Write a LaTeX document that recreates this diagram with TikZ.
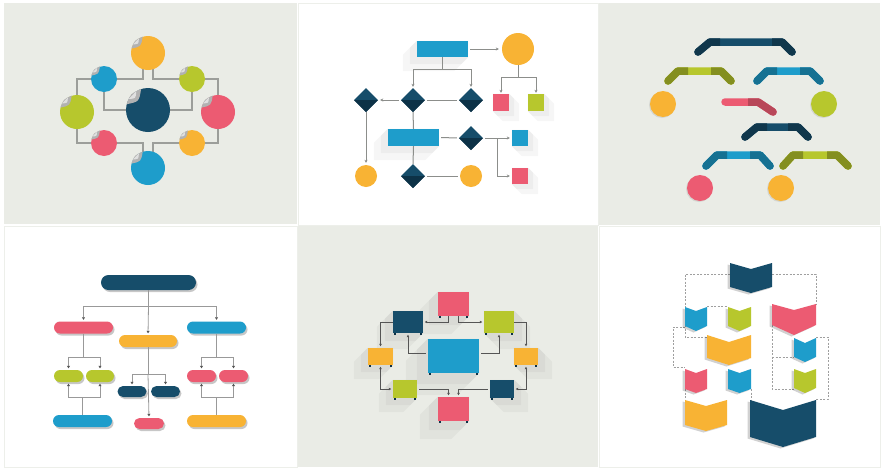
\documentclass[tikz,border=0pt]{standalone}
\usetikzlibrary{shapes.geometric,arrows.meta,calc,shadows,fadings}
\definecolor{panelgray}{HTML}{EAECE6}
\definecolor{framegray}{HTML}{EDEFEA}
\definecolor{cor}{HTML}{F8B334}
\definecolor{cbl}{HTML}{1E9DCB}
\definecolor{cgr}{HTML}{B7C72D}
\definecolor{crd}{HTML}{EC5B72}
\definecolor{cnv}{HTML}{164D6A}
\definecolor{cnvd}{HTML}{0D3247}
\definecolor{lgray}{HTML}{9C9E9A}
\definecolor{dgray}{HTML}{555555}
\pgfdeclarelayer{back}
\pgfdeclarelayer{bg}
\pgfsetlayers{back,bg,main}
\tikzset{
  cn/.style={circle,inner sep=0pt,minimum size=#1},
  box/.style={rectangle,inner sep=0pt},
  dia/.style={diamond,aspect=1,inner sep=0pt,minimum width=24pt,minimum height=24pt,fill=cnv},
  pill/.style={rectangle,inner sep=0pt,rounded corners=#1,
    drop shadow={shadow xshift=1.5pt,shadow yshift=-2pt,opacity=0.22,fill=black}},
  p1line/.style={draw=lgray,line width=1.3pt},
  p2line/.style={draw=lgray!90!black,line width=1pt},
  p2arr/.style={p2line,-{Stealth[length=3pt,width=3pt]}},
  p4line/.style={draw=gray!80,line width=0.8pt},
  p4arr/.style={p4line,-{Triangle[length=2.5pt,width=3pt,color=dgray]},shorten >=1.5pt},
  p5line/.style={draw=dgray,line width=0.7pt},
  p5arr/.style={p5line,-{Triangle[length=2.5pt,width=2.5pt]},shorten >=1.5pt},
  p5both/.style={p5line,{Triangle[length=2.5pt,width=2.5pt]}-{Triangle[length=2.5pt,width=2.5pt]},shorten >=1.5pt,shorten <=1.5pt},
  dline/.style={draw=gray!75,dash pattern=on 2pt off 1.5pt,line width=0.6pt},
  rib/.style={line width=7.5pt,line cap=round,line join=round},
  ribd/.style={line width=7.5pt,line cap=butt,line join=round},
  shade5/.style={fill=black,opacity=0.035}
}
\newcommand{\mypeel}[1]{%
  \fill[gray!60] (#1.165) .. controls ($(#1.center)!1.08!(#1.137)$) .. (#1.108)
     .. controls ($(#1.center)!0.55!(#1.137)$) .. (#1.165) -- cycle;
  \fill[white,opacity=0.6] (#1.150) .. controls ($(#1.center)!0.95!(#1.136)$) .. (#1.122)
     .. controls ($(#1.center)!0.75!(#1.137)$) .. (#1.150) -- cycle;}
\newcommand{\ribbon}[7]{%
  \draw[#7,rib] (#1,#6) -- (#2,#5) -- (#3,#5) -- (#4,#6);
  \draw[#7!72!black,ribd] (#1,#6) -- (#2,#5) -- ({#2+10},#5);
  \draw[#7!72!black,ribd] ({#3-10},#5) -- (#3,#5) -- (#4,#6);
  \fill[#7!72!black] (#1,#6) circle[radius=3.75];
  \fill[#7!72!black] (#4,#6) circle[radius=3.75];}
\newcommand{\chev}[7]{%
  \fill[black,opacity=0.18] ({#1-2.5},{#3+1.5}) -- ({(#1+#2)/2-2.5},{#4+1.5}) -- ({#2-2.5},{#3+1.5}) -- ({#2-2.5},{#5+1.5}) -- ({(#1+#2)/2-2.5},{#6+1.5}) -- ({#1-2.5},{#5+1.5}) -- cycle;
  \fill[#7] (#1,#3) -- ({(#1+#2)/2},#4) -- (#2,#3) -- (#2,#5) -- ({(#1+#2)/2},#6) -- (#1,#5) -- cycle;}
\newcommand{\lshadow}[2]{%
  \fill[shade5] (#1.north west) -- (#1.north east) -- (#1.south east) -- ($(#1.south east)+(-#2,#2)$) -- ($(#1.south west)+(-#2,#2)$) -- ($(#1.north west)+(-#2,#2)$) -- cycle;
  \fill[shade5] (#1.north west) -- (#1.north east) -- (#1.south east) -- ($(#1.south east)+(-#2/2,#2/2)$) -- ($(#1.south west)+(-#2/2,#2/2)$) -- ($(#1.north west)+(-#2/2,#2/2)$) -- cycle;}
\newcommand{\rshadow}[2]{%
  \fill[shade5] (#1.north west) -- (#1.north east) -- ($(#1.north east)+(#2,#2)$) -- ($(#1.south east)+(#2,#2)$) -- ($(#1.south west)+(#2,#2)$) -- (#1.south west) -- cycle;
  \fill[shade5] (#1.north west) -- (#1.north east) -- ($(#1.north east)+(#2/2,#2/2)$) -- ($(#1.south east)+(#2/2,#2/2)$) -- ($(#1.south west)+(#2/2,#2/2)$) -- (#1.south west) -- cycle;}
\newcommand{\feet}[1]{%
  \fill[cnvd] ([xshift=1pt]#1.south west) rectangle ++(2,1.5);
  \fill[cnvd] ([xshift=-3pt]#1.south east) rectangle ++(2,1.5);}

\begin{document}
\begin{tikzpicture}[x=1pt,y=-1pt]
\useasboundingbox (0,0) rectangle (882,469);
% ---------- panels ----------
\begin{pgfonlayer}{back}
\fill[white] (0,0) rectangle (882,469);
\fill[panelgray] (4,3) rectangle (297,224);
\draw[framegray] (298.5,3.5) rectangle (598.5,225.5);
\fill[panelgray] (599,3) rectangle (880,225);
\draw[framegray] (4.5,226.5) rectangle (297.5,467.5);
\fill[panelgray] (298,226) rectangle (598,467);
\draw[framegray] (599.5,226.5) rectangle (880,467.5);
\end{pgfonlayer}

% ---------- panel 1 : circles ----------
\node[cn=34pt,fill=cor] (a1) at (148,53) {};
\node[cn=26pt,fill=cbl] (a2) at (104,79) {};
\node[cn=26pt,fill=cgr] (a3) at (192,79) {};
\node[cn=34pt,fill=cgr] (a4) at (77,112) {};
\node[cn=44pt,fill=cnv] (a5) at (148,110) {};
\node[cn=34pt,fill=crd] (a6) at (218,112) {};
\node[cn=26pt,fill=crd] (a7) at (104,143) {};
\node[cn=26pt,fill=cor] (a8) at (192,143) {};
\node[cn=34pt,fill=cbl] (a9) at (148,168) {};
\foreach \n in {a1,a2,a3,a4,a5,a6,a7,a8,a9} {\mypeel{\n}}
\begin{pgfonlayer}{bg}
\draw[p1line] ([xshift=-5pt]a1.center) |- (a2.center);
\draw[p1line] ([xshift=5pt]a1.center) |- (a3.center);
\draw[p1line] (a2.center) -| (a4.center);
\draw[p1line] (a3.center) -| (a6.center);
\draw[p1line] (a2.center) |- (a5.center);
\draw[p1line] (a3.center) |- (a5.center);
\draw[p1line] (a4.center) |- (a7.center);
\draw[p1line] (a6.center) |- (a8.center);
\draw[p1line] (a7.center) -| ([xshift=-5pt]a9.center);
\draw[p1line] (a8.center) -| ([xshift=5pt]a9.center);
\end{pgfonlayer}

% ---------- panel 2 : flowchart ----------
\node[box,fill=cbl,minimum width=51pt,minimum height=16pt] (b1) at (442.5,49) {};
\node[cn=32pt,fill=cor] (b2) at (518,49) {};
\node[dia] (b3) at (366,100) {};
\node[dia] (b4) at (413,100) {};
\node[dia] (b5) at (471,100) {};
\node[box,fill=crd,minimum width=16pt,minimum height=17pt] (b6) at (501,102.5) {};
\node[box,fill=cgr,minimum width=16pt,minimum height=17pt] (b7) at (536,102.5) {};
\node[box,fill=cbl,minimum width=51pt,minimum height=17pt] (b8) at (413.5,137.5) {};
\node[dia] (b9) at (471,138) {};
\node[box,fill=cbl,minimum width=16pt,minimum height=16pt] (b10) at (520,138) {};
\node[box,fill=crd,minimum width=16pt,minimum height=16pt] (b11) at (520,176) {};
\node[cn=22pt,fill=cor] (b12) at (366,176) {};
\node[dia] (b13) at (413,176) {};
\node[cn=22pt,fill=cor] (b14) at (471,176) {};
\foreach \d in {b3,b4,b5,b9,b13} {\fill[cnvd] (\d.west) -- (\d.east) -- (\d.south) -- cycle;}
\begin{pgfonlayer}{bg}
\lshadow{b1}{14}
\lshadow{b8}{14}
\rshadow{b6}{10}
\rshadow{b7}{10}
\rshadow{b10}{10}
\rshadow{b11}{10}
\end{pgfonlayer}
\coordinate (j1) at (442.5,69);
\coordinate (j2) at (518,77);
\coordinate (j3) at (497,138);
\draw[p2line] (b1.south) -- (j1);
\draw[p2arr,shorten >=1pt] (j1) -| (b4.north);
\draw[p2arr,shorten >=1pt] (j1) -| (b5.north);
\draw[p2arr,shorten <=2pt,shorten >=3pt] (b1.east) -- (b2.west);
\draw[p2arr,shorten <=2pt,shorten >=2pt] (b4.west) -- (b3.east);
\draw[p2line,shorten <=2pt,shorten >=2pt] (b4.east) -- (b5.west);
\draw[p2line] (b2.south) -- (j2);
\draw[p2arr,shorten >=1pt] (j2) -| (b6.north);
\draw[p2arr,shorten >=1pt] (j2) -| (b7.north);
\draw[p2arr,shorten >=2pt] (b3.south) -- (b12.north);
\draw[p2line] (b4.south) -- (b8.north);
\draw[p2line] (b8.south) -- (b13.north);
\draw[p2line,shorten <=2pt,shorten >=2pt] (b13.east) -- (b14.west);
\draw[p2line,shorten <=2pt,shorten >=2pt] (b8.east) -- (b9.west);
\draw[p2arr,shorten <=2pt,shorten >=2pt] (b9.east) -- (b10.west);
\draw[p2arr,shorten >=2pt] (j3) |- (b11.west);

% ---------- panel 3 : ribbons ----------
\ribbon{698}{710}{782}{792}{42}{52}{cnv}
\ribbon{668}{678}{721}{731}{71}{81}{cgr}
\ribbon{757}{767}{810}{820}{71}{81}{cbl}
\draw[crd,rib] (725,102) -- (758,102) -- (773,112);
\draw[crd!78!black,ribd] (748,102) -- (758,102) -- (773,112);
\fill[crd!78!black] (773,112) circle[radius=3.75];
\ribbon{745}{757}{798}{808}{127}{137}{cnv}
\ribbon{706}{717}{760}{770}{155}{166}{cbl}
\ribbon{783}{793}{837}{848}{155}{166}{cgr}
\node[cn=26pt,fill=cor,drop shadow={shadow xshift=-1pt,shadow yshift=-1pt,opacity=0.2}] (c1) at (663,104) {};
\node[cn=26pt,fill=cgr,drop shadow={shadow xshift=-1pt,shadow yshift=-1pt,opacity=0.2}] (c2) at (824,104) {};
\node[cn=26pt,fill=crd,drop shadow={shadow xshift=-1pt,shadow yshift=-1pt,opacity=0.2}] (c3) at (700,188) {};
\node[cn=26pt,fill=cor,drop shadow={shadow xshift=-1pt,shadow yshift=-1pt,opacity=0.2}] (c4) at (781,188) {};

% ---------- panel 4 : org chart ----------
\node[pill=7.5pt,fill=cnv,minimum width=95pt,minimum height=15pt] (d0) at (148.5,282.5) {};
\node[pill=6pt,fill=crd,minimum width=59pt,minimum height=12pt] (dL) at (83.5,327.5) {};
\node[pill=6pt,fill=cbl,minimum width=59pt,minimum height=12pt] (dR) at (216.5,327.5) {};
\node[pill=6pt,fill=cor,minimum width=58pt,minimum height=12pt] (dM) at (148,341) {};
\node[pill=6pt,fill=cgr,minimum width=29pt,minimum height=12pt] (g1) at (68.5,376) {};
\node[pill=6pt,fill=cgr,minimum width=28pt,minimum height=12pt] (g2) at (100,376) {};
\node[pill=5.5pt,fill=cnv,minimum width=29pt,minimum height=11pt] (n1) at (132,391.5) {};
\node[pill=5.5pt,fill=cnv,minimum width=29pt,minimum height=11pt] (n2) at (165.5,391.5) {};
\node[pill=6pt,fill=crd,minimum width=29pt,minimum height=12pt] (r1) at (201.5,376) {};
\node[pill=6pt,fill=crd,minimum width=29pt,minimum height=12pt] (r2) at (233.5,376) {};
\node[pill=6pt,fill=cbl,minimum width=59pt,minimum height=12pt] (eL) at (82.5,421) {};
\node[pill=5.5pt,fill=crd,minimum width=30pt,minimum height=11pt] (eM) at (149,423.5) {};
\node[pill=6pt,fill=cor,minimum width=59pt,minimum height=12pt] (eR) at (216.5,421) {};
\coordinate (k0) at (148.5,306);
\coordinate (kL) at (83.5,357);
\coordinate (kL2) at (82.5,397);
\coordinate (kM) at (148,374);
\coordinate (kR) at (216.5,357);
\coordinate (kR2) at (216.5,397);
\draw[p4line] (d0.south) -- (k0);
\draw[p4arr] (k0) -| (dL.north);
\draw[p4arr] (k0) -| (dR.north);
\draw[p4arr] (k0) -- (dM.north);
\draw[p4line] (dL.south) -- (kL);
\draw[p4arr] (kL) -| (g1.north);
\draw[p4arr] (kL) -| (g2.north);
\draw[p4line] (eL.north) -- (kL2);
\draw[p4arr] (kL2) -| (g1.south);
\draw[p4arr] (kL2) -| (g2.south);
\draw[p4line] (dM.south) -- (kM);
\draw[p4arr] (kM) -| (n1.north);
\draw[p4arr] (kM) -| (n2.north);
\draw[p4arr] (kM) -- (eM.north);
\draw[p4line] (dR.south) -- (kR);
\draw[p4arr] (kR) -| (r1.north);
\draw[p4arr] (kR) -| (r2.north);
\draw[p4line] (eR.north) -- (kR2);
\draw[p4arr] (kR2) -| (r1.south);
\draw[p4arr] (kR2) -| (r2.south);

% ---------- panel 5 : boxes around a centre ----------
\node[box,fill=cbl,minimum width=51pt,minimum height=34pt] (f0) at (453.5,356) {};
\node[box,fill=crd,minimum width=31pt,minimum height=24pt] (f1) at (453.5,304) {};
\node[box,fill=cnv,minimum width=30pt,minimum height=22pt] (f2) at (408,322) {};
\node[box,fill=cgr,minimum width=30pt,minimum height=22pt] (f3) at (499,322) {};
\node[box,fill=cor,minimum width=25pt,minimum height=17pt] (f4) at (380.5,356.5) {};
\node[box,fill=cor,minimum width=24pt,minimum height=17pt] (f5) at (526,356.5) {};
\node[box,fill=cgr,minimum width=24pt,minimum height=18pt] (f6) at (405,389) {};
\node[box,fill=cnv,minimum width=24pt,minimum height=18pt] (f7) at (502,389) {};
\node[box,fill=crd,minimum width=31pt,minimum height=24pt] (f8) at (453.5,409) {};
\foreach \n in {f0,f1,f2,f3,f4,f5,f6,f7,f8} {\feet{\n}}
\begin{pgfonlayer}{bg}
\lshadow{f0}{22}
\lshadow{f1}{18}
\lshadow{f2}{16}
\rshadow{f3}{16}
\lshadow{f4}{14}
\rshadow{f5}{14}
\lshadow{f6}{14}
\rshadow{f7}{14}
\lshadow{f8}{18}
\end{pgfonlayer}
\draw[p5arr] ([xshift=-5pt]f1.south) |- (f2.east);
\draw[p5arr] ([xshift=5pt]f1.south) |- (f3.west);
\draw[p5arr] (f2.west) -| (f4.north);
\draw[p5arr] (f3.east) -| (f5.north);
\draw[p5arr,shorten <=2pt] ([yshift=3pt]f0.west) -| (f2.south);
\draw[p5arr,shorten <=2pt] ([yshift=3pt]f0.east) -| (f3.south);
\draw[p5both] (f4.south) |- (f6.west);
\draw[p5both] (f5.south) |- (f7.east);
\draw[p5arr,shorten <=2pt] (f6.east) -| ([xshift=-5pt]f8.north);
\draw[p5arr,shorten <=2pt] (f7.west) -| ([xshift=5pt]f8.north);

% ---------- panel 6 : chevrons ----------
\draw[dline] (730,274) -- (685,274) -- (685,307);
\draw[dline] (772,274) -- (816,274) -- (816,304);
\draw[dline] (707,306) -- (728,306);
\draw[dline] (685,327) -- (673,327) -- (673,367) -- (685,367);
\draw[dline] (685,325) -- (685,337) -- (707,337);
\draw[dline] (685,389) -- (685,400);
\draw[dline] (751,389) -- (751,400);
\draw[dline] (772,304) -- (772,389) -- (794,389);
\draw[dline] (772,357) -- (794,357);
\draw[dline] (816,337) -- (828,337) -- (828,399) -- (816,399);
\chev{730}{772}{263}{269}{287}{293}{cnv}
\chev{685}{707}{307}{311}{326}{331}{cbl}
\chev{728}{751}{307}{311}{326}{331}{cgr}
\chev{772}{816}{304}{310}{325}{335}{crd}
\chev{707}{751}{335}{342}{358}{365}{cor}
\chev{794}{816}{338}{343}{357}{362}{cbl}
\chev{685}{707}{369}{373}{389}{393}{crd}
\chev{728}{751}{369}{373}{389}{393}{cbl}
\chev{794}{816}{369}{373}{388}{393}{cgr}
\chev{685}{727}{400}{406}{425}{431}{cor}
\chev{750}{816}{400}{410}{437}{447}{cnv}
\end{tikzpicture}
\end{document}
